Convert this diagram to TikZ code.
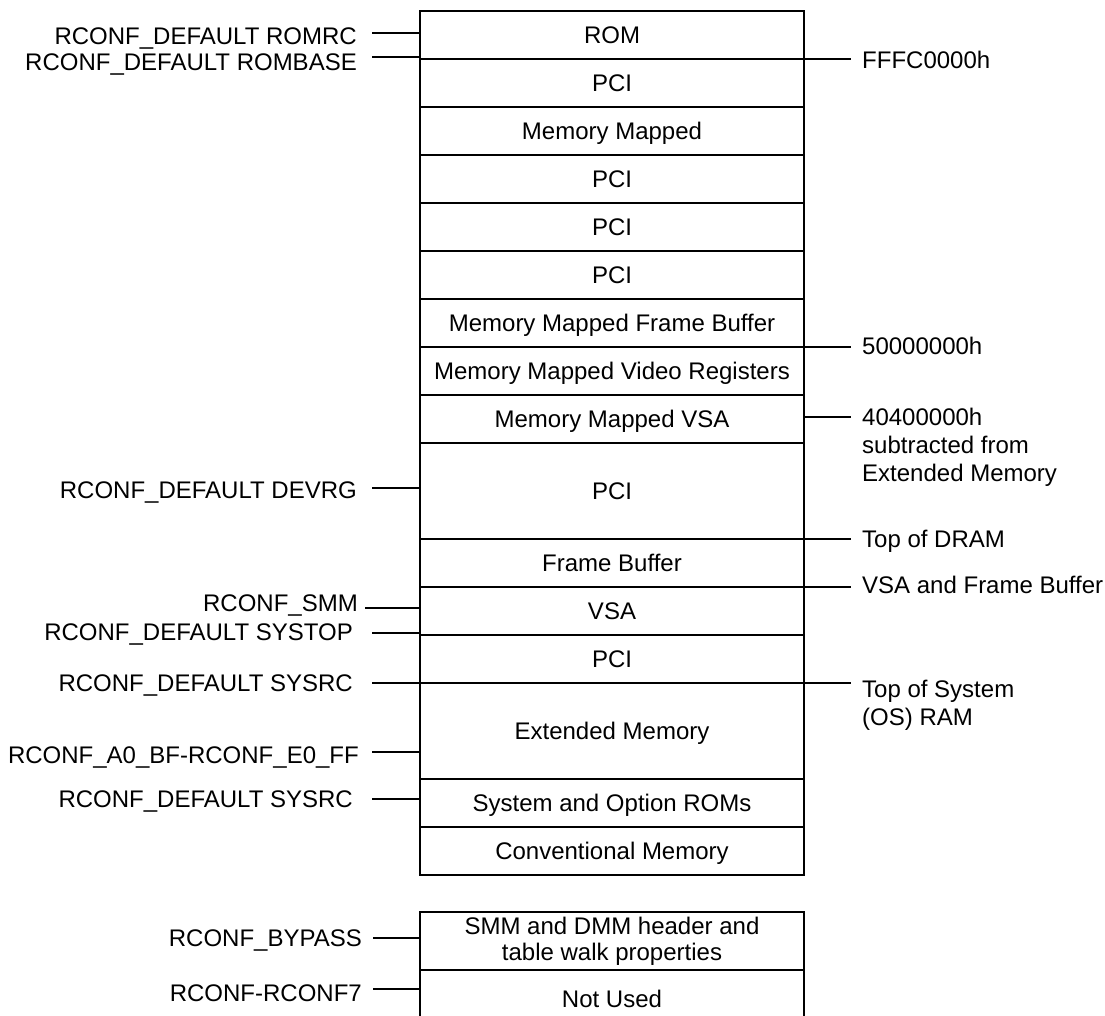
\documentclass[tikz,border=0pt]{standalone}
\usepackage{fontspec}
\setmainfont{Liberation Sans}
\begin{document}
\begin{tikzpicture}[x=1pt,y=-1pt,
  font=\fontsize{24}{28}\selectfont,
  cell/.style={draw,line width=2.2pt,minimum width=384pt,inner sep=0pt,outer sep=0pt},
  onel/.style={text height=17pt,text depth=0pt},
  lab/.style={anchor=east,inner sep=0pt,text height=17pt,text depth=0pt},
  rlab/.style={anchor=west,inner sep=0pt,text height=17pt,text depth=0pt},
  rlabm/.style={anchor=north west,inner sep=0pt,align=left},
  conn/.style={line width=2.2pt}]
\useasboundingbox (0,0) rectangle (1105,1015);
\clip (0,0) rectangle (1105,1015);
% memory map rows
\node[cell,onel,minimum height=48pt] (r1) at (612,35) {ROM};
\node[cell,onel,minimum height=48pt] (r2) at (612,83) {PCI};
\node[cell,onel,minimum height=48pt] (r3) at (612,131) {Memory Mapped};
\node[cell,onel,minimum height=48pt] (r4) at (612,179) {PCI};
\node[cell,onel,minimum height=48pt] (r5) at (612,227) {PCI};
\node[cell,onel,minimum height=48pt] (r6) at (612,275) {PCI};
\node[cell,onel,minimum height=48pt] (r7) at (612,323) {Memory Mapped Frame Buffer};
\node[cell,onel,minimum height=48pt] (r8) at (612,371) {Memory Mapped Video Registers};
\node[cell,onel,minimum height=48pt] (r9) at (612,419) {Memory Mapped VSA};
\node[cell,onel,minimum height=96pt] (r10) at (612,491) {PCI};
\node[cell,onel,minimum height=48pt] (r11) at (612,563) {Frame Buffer};
\node[cell,onel,minimum height=48pt] (r12) at (612,611) {VSA};
\node[cell,onel,minimum height=48pt] (r13) at (612,659) {PCI};
\node[cell,onel,minimum height=96pt] (r14) at (612,731) {Extended Memory};
\node[cell,onel,minimum height=48pt] (r15) at (612,803) {System and Option ROMs};
\node[cell,onel,minimum height=48pt] (r16) at (612,851) {Conventional Memory};
% second table
\node[cell,minimum height=58pt,align=center,font=\fontsize{24}{26}\selectfont] (b1) at (612,941) {SMM and DMM header and\\table walk properties};
\node[cell,onel,minimum height=58pt] (b2) at (612,999) {Not Used};
% connection points on the box
\coordinate (cL1) at (420,33);
\coordinate (cL2) at (420,57);
\coordinate (cL3) at (420,488);
\coordinate (cL4) at (420,608);
\coordinate (cL5) at (420,633);
\coordinate (cL6) at (420,683);
\coordinate (cL7) at (420,752);
\coordinate (cL8) at (420,799);
\coordinate (cL9) at (420,938);
\coordinate (cL10) at (420,989);
\coordinate (cR1) at (804,59);
\coordinate (cR2) at (804,347);
\coordinate (cR3) at (804,417);
\coordinate (cR4) at (804,539);
\coordinate (cR5) at (804,587);
\coordinate (cR6) at (804,683);
% left labels
\node[lab] (L1) at (357,36) {RCONF\_DEFAULT ROMRC};
\node[lab] (L2) at (357,62) {RCONF\_DEFAULT ROMBASE};
\node[lab] (L3) at (357,490) {RCONF\_DEFAULT DEVRG};
\node[lab] (L4) at (358,603) {RCONF\_SMM};
\node[lab] (L5) at (353,632) {RCONF\_DEFAULT SYSTOP};
\node[lab] (L6) at (353,683) {RCONF\_DEFAULT SYSRC};
\node[lab] (L7) at (359,755) {RCONF\_A0\_BF-RCONF\_E0\_FF};
\node[lab] (L8) at (353,799) {RCONF\_DEFAULT SYSRC};
\node[lab] (L9) at (362,938) {RCONF\_BYPASS};
\node[lab] (L10) at (362,993) {RCONF-RCONF7};
% right labels
\node[rlab] (R1) at (862,60) {FFFC0000h};
\node[rlab] (R2) at (862,346) {50000000h};
\node[rlabm] (R3) at (862,408) {40400000h\\subtracted from\\Extended Memory};
\node[rlab] (R4) at (862,539) {Top of DRAM};
\node[rlab] (R5) at (862,585) {VSA and Frame Buffer};
\node[rlabm] (R6) at (862,680) {Top of System\\(OS) RAM};
% connectors
\draw[conn] ([xshift=15pt]L1.east |- cL1) -- (cL1);
\draw[conn] ([xshift=15pt]L2.east |- cL2) -- (cL2);
\draw[conn] ([xshift=15pt]L3.east |- cL3) -- (cL3);
\draw[conn] ([xshift=7pt]L4.east |- cL4) -- (cL4);
\draw[conn] ([xshift=19pt]L5.east |- cL5) -- (cL5);
\draw[conn] ([xshift=19pt]L6.east |- cL6) -- (cL6);
\draw[conn] ([xshift=13pt]L7.east |- cL7) -- (cL7);
\draw[conn] ([xshift=19pt]L8.east |- cL8) -- (cL8);
\draw[conn] ([xshift=11pt]L9.east |- cL9) -- (cL9);
\draw[conn] ([xshift=11pt]L10.east |- cL10) -- (cL10);
\draw[conn] (cR1) -- ([xshift=-11pt]R1.west |- cR1);
\draw[conn] (cR2) -- ([xshift=-11pt]R2.west |- cR2);
\draw[conn] (cR3) -- ([xshift=-11pt]R3.west |- cR3);
\draw[conn] (cR4) -- ([xshift=-11pt]R4.west |- cR4);
\draw[conn] (cR5) -- ([xshift=-11pt]R5.west |- cR5);
\draw[conn] (cR6) -- ([xshift=-11pt]R6.west |- cR6);
\end{tikzpicture}
\end{document}
